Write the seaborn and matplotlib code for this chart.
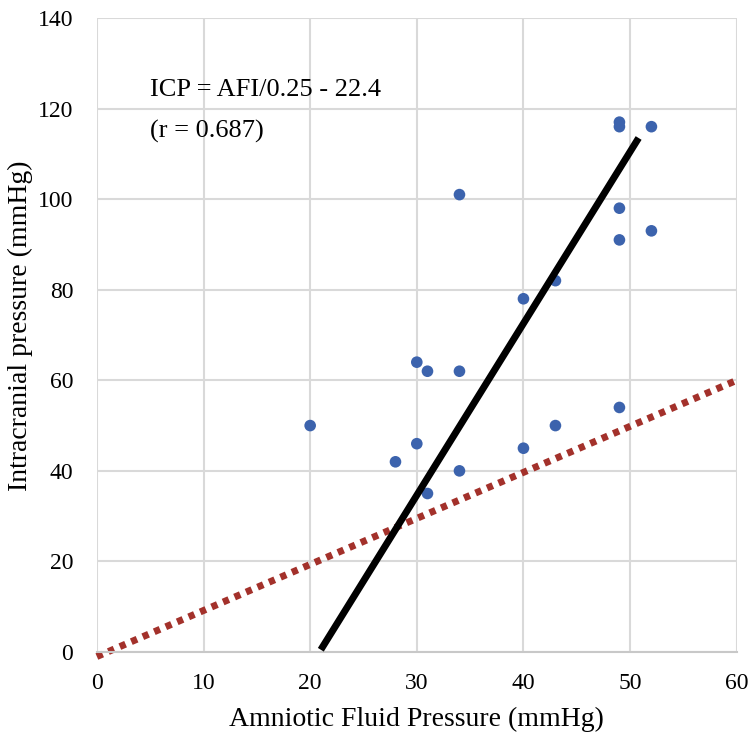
import numpy as np
import pandas as pd
import matplotlib.pyplot as plt
import seaborn as sns

# Data
afp = [20, 28, 30, 30, 31, 31, 34, 34, 34, 40, 40, 43, 43, 49, 49, 49, 49, 49, 52, 52]
icp = [50, 42, 64, 46, 62, 35, 101, 62, 40, 78, 45, 82, 50, 117, 116, 98, 91, 54, 116, 93]

# fitted line endpoints and identity line
fit_x = [21, 50.8]
fit_y = [0.5, 113.5]
ident_x = [0, 60]
ident_y = [-1, 60]

xticks = [0, 10, 20, 30, 40, 50, 60]
yticks = [0, 20, 40, 60, 80, 100, 120, 140]

sns.set_style("white")
plt.rcParams['font.family'] = ['Liberation Serif', 'DejaVu Serif']
plt.rcParams['text.color'] = 'black'
plt.rcParams['axes.labelcolor'] = 'black'
plt.rcParams['xtick.color'] = 'black'
plt.rcParams['ytick.color'] = 'black'

df = pd.DataFrame({"afp": afp, "icp": icp})

fig = plt.figure(figsize=(7.51, 7.34), dpi=100)
ax = fig.add_axes([0.129, 0.1117, 0.852, 0.8638])

ax.plot(ident_x, ident_y, color="#a3312b", lw=5, ls=(0, (0.9, 0.9)), clip_on=False, zorder=2)
sns.scatterplot(data=df, x="afp", y="icp", ax=ax, color="#3c63ad", s=70, edgecolor="none", zorder=3)
ax.plot(fit_x, fit_y, color="black", lw=5, solid_capstyle="butt", zorder=4)

ax.set_xlim(0, 60)
ax.set_ylim(0, 140)
ax.set_xticks(xticks)
ax.set_yticks(yticks)
ax.grid(True, color="#d9d9d9", lw=1.5)
ax.set_axisbelow(True)
for s in ["top", "right", "left"]:
    ax.spines[s].set_visible(False)
ax.spines["bottom"].set_color("#c8c8c8")
ax.spines["bottom"].set_linewidth(1.5)
ax.tick_params(axis="y", length=0, labelsize=17, pad=17)
ax.tick_params(axis="x", length=0, labelsize=17, pad=15)

ax.set_xlabel("Amniotic Fluid Pressure (mmHg)", fontsize=20, labelpad=9)
ax.set_ylabel("Intracranial pressure (mmHg)", fontsize=20)
ax.yaxis.set_label_coords(-0.1, 0.515)

ax.text(5, 124, "ICP = AFI/0.25 - 22.4", fontsize=19, va="center")
ax.text(5, 115, "(r = 0.687)", fontsize=19, va="center")

fig.savefig("out.png", dpi=100)
